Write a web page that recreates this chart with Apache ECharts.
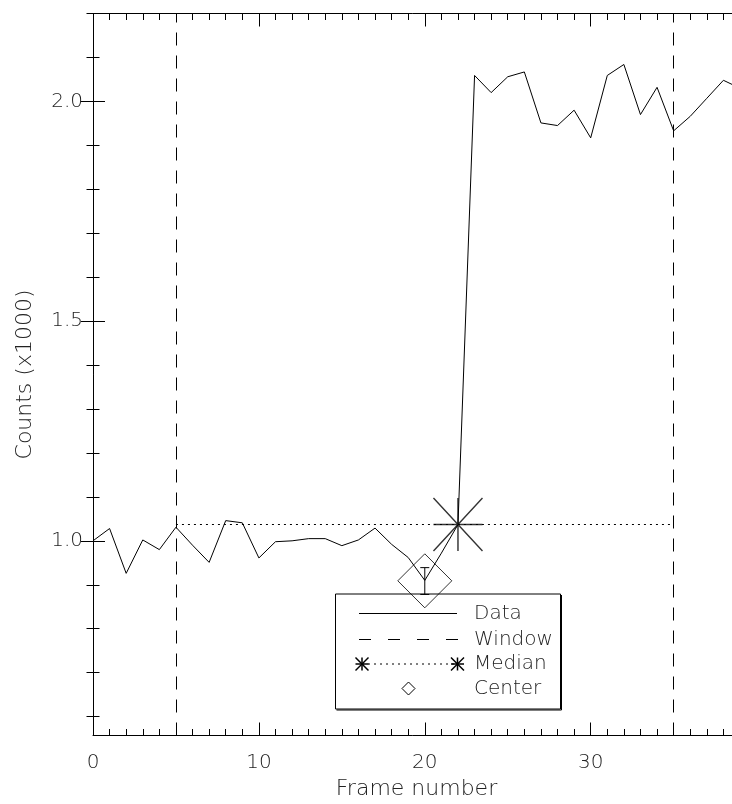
<!DOCTYPE html>
<html>
<head>
<meta charset="utf-8">
<script src="https://cdn.jsdelivr.net/npm/echarts@6/dist/echarts.min.js"></script>
<style>
  html, body { margin: 0; padding: 0; background: #fff; }
  #chart { width: 732px; height: 804px; }
</style>
</head>
<body>
<div id="chart"></div>
<script>
// frame numbers and counts (x1000)
const frames = [0, 1, 2, 3, 4, 5, 6, 7, 8, 9, 10, 11, 12, 13, 14, 15, 16, 17, 18, 19,
  20, 21, 22, 23, 24, 25, 26, 27, 28, 29, 30, 31, 32, 33, 34, 35, 36, 37, 38, 39];
const counts = [1.000, 1.028, 0.926, 1.002, 0.980, 1.031, 0.990, 0.951, 1.046, 1.041,
  0.961, 0.998, 1.000, 1.005, 1.005, 0.989, 1.002, 1.029, 0.992, 0.962,
  0.910, 0.972, 1.037, 2.059, 2.020, 2.056, 2.067, 1.951, 1.945, 1.980,
  1.917, 2.059, 2.084, 1.970, 2.032, 1.933, 1.966, 2.007, 2.048, 2.030];

const windowFrames = [5, 35];
const medianFrame = 22;
const medianValue = 1.037;
const centerPoint = [20, 0.909];
const centerErr = [0.878, 0.939];

const xRange = [0, 39];
const yRange = [0.557, 2.2];
const xMajorTicks = [0, 10, 20, 30];
const xMinorTicks = [0, 1, 2, 3, 4, 5, 6, 7, 8, 9, 10, 11, 12, 13, 14, 15, 16, 17, 18, 19,
  20, 21, 22, 23, 24, 25, 26, 27, 28, 29, 30, 31, 32, 33, 34, 35, 36, 37, 38, 39];
const yMajorTicks = [1.0, 1.5, 2.0];
const yMinorTicks = [0.6, 0.7, 0.8, 0.9, 1.0, 1.1, 1.2, 1.3, 1.4, 1.5, 1.6, 1.7, 1.8,
  1.9, 2.0, 2.1, 2.2];

const legendNames = ['Data', 'Window', 'Median', 'Center'];

const FONT = "'DejaVu Sans', sans-serif";
const TXT = '#222';

const chart = echarts.init(document.getElementById('chart'), null, { renderer: 'canvas' });

const gridBox = { left: 93, top: 13.5, width: 647, height: 722, outerBoundsMode: 'none', containLabel: false };

function xAx(grid, pos, ticks, len, extra) {
  return Object.assign({
    gridIndex: grid, type: 'value', position: pos,
    min: xRange[0], max: xRange[1],
    axisLine: { show: grid === 0, lineStyle: { color: '#000', width: 1 } },
    axisTick: { show: true, inside: true, length: len, customValues: ticks, lineStyle: { color: '#000', width: 1 } },
    axisLabel: { show: false },
    splitLine: { show: false }
  }, extra || {});
}
function yAx(grid, pos, ticks, len, extra) {
  return Object.assign({
    gridIndex: grid, type: 'value', position: pos,
    min: yRange[0], max: yRange[1],
    axisLine: { show: grid === 0, lineStyle: { color: '#000', width: 1 } },
    axisTick: { show: true, inside: true, length: len, customValues: ticks, lineStyle: { color: '#000', width: 1 } },
    axisLabel: { show: false },
    splitLine: { show: false }
  }, extra || {});
}

const labelStyle = { color: TXT, fontFamily: FONT, fontSize: 20, fontWeight: 200 };
const nameStyle = { color: TXT, fontFamily: FONT, fontSize: 22, fontWeight: 200 };

// legend box, drawn by hand to look like the IDL legend
const lx = 335.5, ly = 594, lw = 225, lh = 115;
const rows = [613.5, 639.5, 664, 688.5];
const textX = 474;
function star(cx, cy, r) {
  return [[0, -r, 0, r], [-r, 0, r, 0], [-r, -r, r, r], [r, -r, -r, r]].map(s => ({
    type: 'line', shape: { x1: cx + s[0], y1: cy + s[1], x2: cx + s[2], y2: cy + s[3] },
    style: { stroke: '#000', lineWidth: 1.5 }
  }));
}
const legendGraphics = [
  { type: 'rect', shape: { x: lx, y: ly, width: lw, height: lh }, style: { fill: '#fff', stroke: '#000', lineWidth: 1 } },
  { type: 'line', shape: { x1: lx + 1, y1: ly + lh + 1, x2: lx + lw + 1, y2: ly + lh + 1 }, style: { stroke: '#000', lineWidth: 1 } },
  { type: 'line', shape: { x1: lx + lw + 1, y1: ly + 1, x2: lx + lw + 1, y2: ly + lh + 1 }, style: { stroke: '#000', lineWidth: 1 } },
  { type: 'line', shape: { x1: 359, y1: rows[0], x2: 457, y2: rows[0] }, style: { stroke: '#000', lineWidth: 1 } },
  { type: 'line', shape: { x1: 359, y1: rows[1], x2: 458, y2: rows[1] }, style: { stroke: '#000', lineWidth: 1, lineDash: [12, 17] } },
  { type: 'line', shape: { x1: 362, y1: rows[2], x2: 457, y2: rows[2] }, style: { stroke: '#000', lineWidth: 1, lineDash: [2, 4] } }
].concat(star(362, rows[2], 6.5), star(457.5, rows[2], 6.5), [
  { type: 'polygon', shape: { points: [[408.5, rows[3] - 6.5], [415, rows[3]], [408.5, rows[3] + 6.5], [402, rows[3]]] },
    style: { fill: 'none', stroke: '#000', lineWidth: 1 } }
]).concat(legendNames.map((n, i) => ({
  type: 'text', x: textX, y: rows[i],
  style: { text: n, fill: TXT, fontFamily: FONT, fontSize: 20, fontWeight: 200, verticalAlign: 'middle' }
})));

const option = {
  animation: false,
  backgroundColor: '#fff',
  grid: [Object.assign({}, gridBox), Object.assign({}, gridBox)],
  xAxis: [
    xAx(0, 'bottom', xMinorTicks, 6.5, {
      axisLabel: Object.assign({ show: true, customValues: xMajorTicks, margin: 17 }, labelStyle),
      name: 'Frame number', nameLocation: 'middle', nameGap: 43,
      nameTextStyle: nameStyle
    }),
    xAx(0, 'top', xMinorTicks, 6.5),
    xAx(1, 'bottom', xMajorTicks, 13),
    xAx(1, 'top', xMajorTicks, 13)
  ],
  yAxis: [
    yAx(0, 'left', yMinorTicks, 6.5, {
      axisLabel: Object.assign({ show: true, customValues: yMajorTicks, margin: 10,
        formatter: v => v.toFixed(1) }, labelStyle),
      name: 'Counts (x1000)', nameLocation: 'middle', nameGap: 57,
      nameTextStyle: nameStyle
    }),
    yAx(0, 'right', yMinorTicks, 6.5),
    yAx(1, 'left', yMajorTicks, 12),
    yAx(1, 'right', yMajorTicks, 12)
  ],
  series: [
    {
      name: 'Data', type: 'line', xAxisIndex: 0, yAxisIndex: 0,
      data: frames.map((f, i) => [f, counts[i]]),
      showSymbol: false, symbol: 'none',
      lineStyle: { color: '#000', width: 1 },
      z: 3,
      markLine: {
        silent: true, symbol: 'none', label: { show: false },
        data: windowFrames.map(f => ({ xAxis: f, lineStyle: { color: '#000', width: 1, type: [13, 10] } }))
          .concat([[
            { coord: [windowFrames[0], medianValue], lineStyle: { color: '#000', width: 1, type: [2, 4] } },
            { coord: [windowFrames[1], medianValue] }
          ]])
      }
    },
    {
      name: 'Median', type: 'scatter', xAxisIndex: 0, yAxisIndex: 0,
      data: [[medianFrame, medianValue]],
      symbol: 'path://M50,0L50,100M0,50L100,50M0,0L100,100M100,0L0,100',
      symbolSize: [49, 53],
      itemStyle: { color: 'transparent', borderColor: '#000', borderWidth: 1.5 },
      z: 4
    },
    {
      name: 'Center', type: 'scatter', xAxisIndex: 0, yAxisIndex: 0,
      data: [centerPoint],
      symbol: 'path://M50,0L100,50L50,100L0,50Z',
      symbolSize: [54, 54],
      itemStyle: { color: 'transparent', borderColor: '#000', borderWidth: 1 },
      z: 4
    },
    {
      name: 'CenterErr', type: 'custom', xAxisIndex: 0, yAxisIndex: 0,
      data: [[centerPoint[0], centerErr[0], centerErr[1]]],
      encode: { x: 0, y: [1, 2] },
      renderItem: function (params, api) {
        const x = api.value(0);
        const lo = api.coord([x, api.value(1)]);
        const hi = api.coord([x, api.value(2)]);
        const cap = 4.5;
        const st = { stroke: '#000', lineWidth: 1 };
        return {
          type: 'group', children: [
            { type: 'line', shape: { x1: lo[0], y1: lo[1], x2: hi[0], y2: hi[1] }, style: st },
            { type: 'line', shape: { x1: hi[0] - cap, y1: hi[1], x2: hi[0] + cap, y2: hi[1] }, style: st },
            { type: 'line', shape: { x1: lo[0] - cap, y1: lo[1], x2: lo[0] + cap, y2: lo[1] }, style: st }
          ]
        };
      },
      z: 4
    }
  ],
  graphic: legendGraphics
};

chart.setOption(option);
</script>
</body>
</html>
